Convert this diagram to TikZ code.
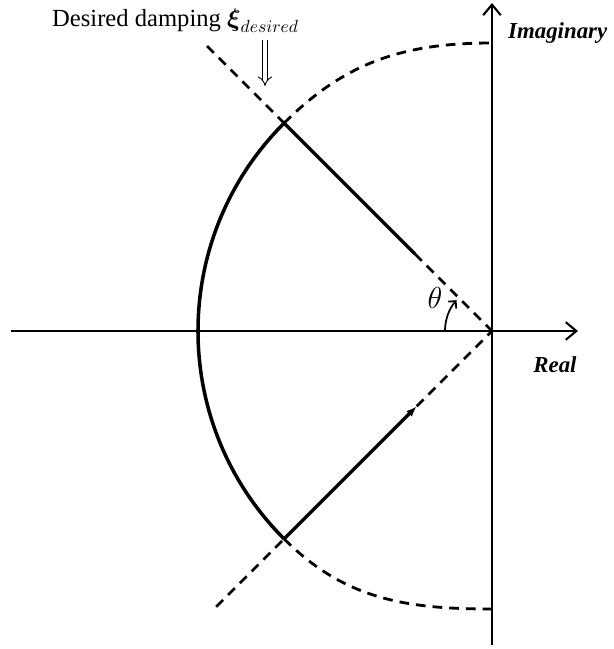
\documentclass[tikz,border=0pt]{standalone}
\usepackage{amsmath}
\usepackage{fontspec}
\setmainfont{Liberation Serif}
\usetikzlibrary{arrows.meta,positioning}

\begin{document}
\begin{tikzpicture}[
    axis/.style={-{Straight Barb[length=6pt,width=10pt]}, line width=1.2pt},
    dashline/.style={dashed, dash pattern=on 5.5pt off 4pt, line width=1.6pt},
    solidline/.style={line width=2pt},
    lab/.style={font=\fontsize{13}{15}\selectfont\bfseries\itshape},
    txt/.style={font=\fontsize{14}{16}\selectfont}
]
\useasboundingbox (-9.84,-6.36) rectangle (2.44,6.62);

\coordinate (O) at (0,0);
\coordinate (re0) at (-9.62,0);
\coordinate (re1) at (1.72,0);
\coordinate (im0) at (0,-6.28);
\coordinate (im1) at (0,6.56);
\coordinate (up) at (135:5.88);
\coordinate (lo) at (225:5.88);
\coordinate (upfar) at (135:8.06);
\coordinate (lofar) at (225:7.8);
\coordinate (upend) at (135:2.18);
\coordinate (loend) at (225:2.13);
\coordinate (top) at (0,5.76);
\coordinate (bot) at (0,-5.56);
\coordinate (thst) at (180:0.94);

% axes
\draw[axis] (re0) -- (re1);
\draw[axis] (im0) -- (im1);
\node[lab, anchor=west] (imag) at (0.2,5.96) {Imaginary};
\node[lab] (real) at (1.26,-0.68) {Real};

% damping lines
\draw[dashline] (upfar) -- (up);
\draw[solidline] (up) -- (upend);
\draw[dashline] (upend) -- (O);
\draw[dashline] (lofar) -- (lo);
\draw[solidline, -{Latex[length=6pt,width=4.5pt]}] (lo) -- (loend);
\draw[dashline] (loend) -- (O);

% arcs
\draw[solidline] (up) arc[start angle=135, end angle=225, radius=5.88];
\draw[dashline] (up) to[out=45, in=180] (top);
\draw[dashline] (lo) to[out=-45, in=180] (bot);

% angle
\draw[line width=1pt, -{Straight Barb[length=3pt,width=6pt]}] (thst) arc[start angle=180, end angle=139, radius=0.94];
\node[font=\fontsize{16}{18}\selectfont] (theta) at (-1.14,0.66) {$\theta$};

% label
\node[txt, anchor=base west] (desired) at (-8.92,6.08) {Desired damping $\boldsymbol{\xi}_{desired}$};
\coordinate (arrs) at (-4.54,5.82);
\coordinate (arre) at (-4.54,4.9);
\draw[double, double distance=2.4pt, line width=0.5pt, -{Implies}] (arrs) -- (arre);
\end{tikzpicture}
\end{document}
